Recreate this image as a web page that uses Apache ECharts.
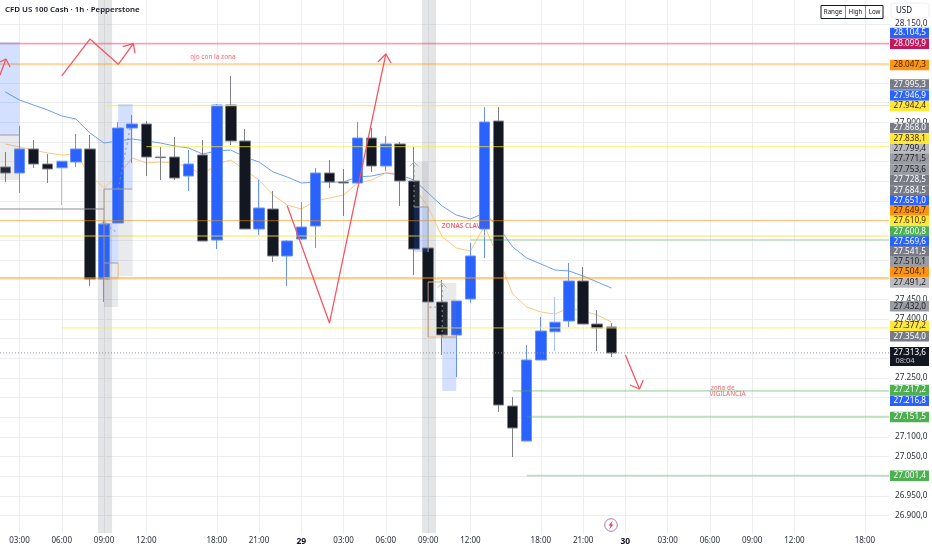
<!DOCTYPE html>
<html>
<head>
<meta charset="utf-8">
<style>html,body{margin:0;padding:0;background:#fff}#c{width:932px;height:550px}</style>
<script src="https://cdn.jsdelivr.net/npm/echarts@6/dist/echarts.min.js"></script>
</head>
<body>
<div id="c"></div>
<script>
// ---- data: open, close, low, high per hourly bar
const candles = [
[27786.3,27771,27748.1,27824.4],[27771,27832.1,27720.2,27890.5],[27832.1,27793.9,27783.7,27854.9],
[27793.9,27781.2,27745.6,27819.3],[27783.7,27801.5,27689.7,27801.5],[27799,27832.1,27786.3,27870.2],
[27832.1,27501.5,27483.7,27867.6],[27501.5,27641.4,27443,27651.5],[27643.9,27885.4,27643.9,27900.7],
[27885.4,27895.6,27796.5,27918.5],[27895.6,27811.7,27763.4,27903.2],[27811.7,27810,27753.2,27837.1],
[27811.7,27758.3,27753.2,27862.6],[27763.4,27793.9,27725.3,27829.5],[27816.8,27598.1,27598.1,27854.9],
[27600.7,27943.9,27577.8,27946.5],[27943.9,27852.4,27842.2,28017.7],[27852.4,27628.6,27628.6,27882.9],
[27628.6,27682,27613.4,27753.2],[27679.5,27560,27544.7,27725.3],[27560,27598.1,27483.7,27600.7],
[27603.2,27633.7,27600.7,27697.3],[27636.3,27771,27580.3,27783.7],[27771,27748.1,27732.9,27804.1],
[27748.1,27745.6,27661.7,27781.2],[27745.6,27860,27745.6,27900.7],[27860,27788.8,27773.6,27885.4],
[27788.8,27844.8,27776.1,27865.1],[27844.8,27750.7,27687.1,27849.9],[27750.7,27577.8,27511.7,27837.1],
[27580.3,27443,27443,27580.3],[27443,27359.1,27308.3,27499],[27359.1,27445.6,27252.3,27445.6],
[27450.7,27560,27440.5,27593],[27628.6,27900.7,27554.9,27938.8],[27903.2,27181.1,27163.3,27938.8],
[27178.6,27122.7,27048.9,27201.5],[27089.6,27295.6,27089.6,27333.7],[27295.6,27369.3,27295.6,27404.9],
[27366.8,27392.2,27318.4,27455.7],[27394.7,27496.4,27379.5,27542.2],[27496.4,27387.1,27387.1,27532],
[27387.1,27376.9,27318.4,27422.7],[27379.5,27313.4,27303.2,27389.6]
];
const fadedBars = [4,39];
const emaBlue = [27977,27956.6,27943.9,27931.2,27916,27908.3,27872.7,27847.3,27852.4,27857.5,27852.4,27847.3,27839.7,27834.6,27819.3,27827,27829.5,27811.7,27799,27773.6,27760.9,27745.6,27748.1,27748.1,27748.1,27760.9,27763.4,27771,27765.9,27753.2,27720.2,27687.1,27664.2,27654.1,27669.3,27633.7,27582.9,27554.9,27539.7,27524.4,27521.9,27509.1,27493.9,27478.6];
const emaOrange = [27844.8,27837.1,27829.5,27821.9,27816.8,27819.3,27765.9,27732.9,27765.9,27809.2,27796.5,27799,27796.5,27786.3,27765.9,27793.9,27804.1,27778.7,27753.2,27715.1,27689.7,27679.5,27699.8,27707.5,27715.1,27745.6,27753.2,27771,27771,27735.4,27684.6,27608.3,27580.3,27572.7,27636.3,27554.9,27463.4,27430.3,27417.6,27412.5,27427.8,27420.2,27410,27392.2];

// time axis
const timeTickBars = [1,4,7,10,15,18,21,24,27,30,33,38,41,44,47,50,53,56,61];
const timeTickTexts = ['03:00','06:00','09:00','12:00','18:00','21:00','29','03:00','06:00','09:00','12:00','18:00','21:00','30','03:00','06:00','09:00','12:00','18:00'];
const dayTicks = ['29','30'];

// price axis
const priceGrid = [26900,26950,27000,27050,27100,27150,27200,27250,27300,27350,27400,27450,27500,27550,27600,27650,27700,27750,27800,27850,27900,27950,28000,28050,28100,28150];
const priceLabels = [26900,26950,27050,27100,27250,27400,27450,27900,28150];

// horizontal levels: price, first bar, last bar
const levelPrices = [28099.9,28047.3,27942.4,27838.1,27649.7,27610.9,27600.8,27504.1,27377.2,27217.2,27151.5,27001.4,27679.5,27313.6];
const levelStarts = [-1,-1,7,10,-1,-1,33,-1,4,36,37,37,-1,-1];
const levelEnds = [63,63,63,63,63,63,63,63,63,63,63,63,7,63];

// price tags on the right
const tagTexts = ['28.104,5','28.099,9','28.047,3','27.995,3','27.946,9','27.942,4','27.868,0','27.838,1','27.799,4','27.771,5','27.753,6','27.728,5','27.684,5','27.651,0','27.649,7','27.610,9','27.600,8','27.569,6','27.541,5','27.510,1','27.504,1','27.491,2','27.432,0','27.377,2','27.354,0','27.217,2','27.216,8','27.151,5','27.001,4'];

// shaded zones: first bar, last bar, top price, bottom price
const zoneBars = [[-0.38,1],[-0.38,1],[8,9.03],[8,9.03],[7,8],[7,8],[29,30],[29,30],[31,32],[31,32]];
const zonePrices = [[28104.1,27867.6],[27867.6,27753.2],[27946.5,27730.3],[27730.3,27509.1],[27643.9,27542.2],[27542.2,27430.3],[27799,27684.6],[27684.6,27570.2],[27491.3,27354],[27354,27216.7]];
const zoneKinds = ['b','g','b','g','b','g','g','b','g','b'];
const sessionBands = [[6.57,7.57],[29.57,30.56]];

// drawn trend lines: [bar, price]
const arrows = [
 [[-0.38,28020.2],[0.04,28060.9]],
 [[-0.38,28053.3],[0.04,28060.9],[0.33,28040.5]],
 [[4,28017.7],[6,28111.7],[8.01,28047.4],[9.08,28099.8]],
 [[8.33,28092.2],[9.08,28099.8],[9.2,28076.1]],
 [[20,27687.9],[23,27389.6],[27,28073.6]],
 [[26.44,28053.3],[27,28073.6],[27.37,28050.7]],
 [[44,27308.3],[45,27221.8]],
 [[44.33,27232],[45,27221.8],[45.27,27244.7]]
];
const greyLines = [
 [[-0.38,27867.6],[1,27867.6]],[[7,27730.3],[9,27730.3]],[[7,27542.2],[8,27542.2]],
 [[29,27684.6],[30,27684.6],[30,27570.2]],[[31,27354],[32,27354]]
];
const brownLines = [
 [[7,27504.1],[7,27730.3]],
 [[30,27494],[30,27354]]
];
const orangeLines = [
 [[7,27504.1],[8,27504.1],[8,27542.2]],
 [[31,27494],[30,27494]],
 [[30,27354],[32,27354]]
];
const dashedLines = [
 [[8,27730.3],[8.85,27885]],
 [[29,27684.6],[29,27799]],
 [[31,27354],[31,27491.3]],
 [[7.1,27640],[7.9,27620]],
 [[30.1,27430],[30.6,27430]]
];
const dashedHeads = [
 [[28.7,27788],[29,27799],[29.3,27788]],
 [[30.7,27480],[31,27491.3],[31.3,27480]],
 [[6.8,27640],[7,27651],[7.2,27640]]
];
const notes = [
 {t:'ojo con la zona',p:[14.73,28065.9],k:0},
 {t:'ZONAS CLAVES',p:[32.6,27636.3],k:1},
 {t:'zona de',p:[50.9,27223],k:0},
 {t:'VIGILANCIA',p:[51.25,27207.8],k:0}
];

// ---- styles and layout
const FONT = '"Noto Sans", sans-serif';
const UP='#2962ff', DOWN='#131722', RED='#f7525f';
const xMin=-0.383, xMax=62.71, yMin=26855.7, yMax=28210.9;
const levelStyles = [
 {c:'rgba(242,54,100,.42)',w:1.8},{c:'rgba(255,152,0,.38)',w:1.8},{c:'rgba(255,235,59,.8)',w:1.1},{c:'rgba(255,235,59,.6)',w:1.1},
 {c:'rgba(255,152,0,.6)',w:1},{c:'rgba(255,225,40,.85)',w:1.1},{c:'rgba(76,175,80,.42)',w:1.3},{c:'rgba(255,152,0,.65)',w:1.3},
 {c:'rgba(255,235,59,.45)',w:1.8},{c:'rgba(76,175,80,.36)',w:1.8},{c:'rgba(76,175,80,.36)',w:1.8},{c:'rgba(76,175,80,.36)',w:1.8},
 {c:'#8a8d96',w:1},{c:'#8f93a0',w:1,d:[1,2]}
];
const tagStyle = {bl:['#2962ff','#fff'],cr:['#c2185b','#fff'],or:['#ff9414','#3a2500'],gr:['#787b86','#fff'],ye:['#ffe83b','#3a2500'],lg:['#b9bbc0','#222'],mg:['#9a9ca3','#222'],gn:['#4caf50','#fff']};
const tagKinds = ['bl','cr','or','gr','bl','ye','gr','ye','lg','mg','mg','gr','gr','bl','or','ye','gn','bl','gr','mg','or','lg','mg','ye','gr','gn','bl','gn','gn'];
const tagY = [33,43.7,65,84.5,95.5,106,128,138.5,149,159,169.5,180,190.5,200.5,210.5,221,231.5,241.5,251.5,262,272,282.5,306.3,326,336.3,390,400.7,417,475.7];
const zoneFill = {b:'rgba(41,98,255,.2)',g:'rgba(120,123,134,.16)'};
const noteStyle = [{fontSize:6.4,fontWeight:500},{fontSize:6.4,fontWeight:600,color:'#f23645'}];

function lineSeries(data,color,width,z,type){
  return {type:'line',data:data,symbol:'none',silent:true,animation:false,z:z,lineStyle:{color:color,width:width,type:type||'solid',cap:'butt'}};
}
function boxSeries(data,z,fillOf){
  return {type:'custom',silent:true,animation:false,z:z,clip:true,data:data,encode:{x:[0,1],y:[2,3]},
    renderItem:function(params,api){
      const a=api.coord([api.value(0),api.value(2)]),b=api.coord([api.value(1),api.value(3)]);
      return {type:'rect',shape:{x:a[0],y:a[1],width:b[0]-a[0],height:b[1]-a[1]},style:{fill:fillOf(params.dataIndex)}};
    }};
}
const series=[];
series.push(boxSeries(sessionBands.map(b=>[b[0],b[1],yMax,yMin]),1,()=>'rgba(120,123,134,.2)'));
series.push(lineSeries(emaBlue.map((v,i)=>[i,v]),'#6f9df3',1,2));
series.push(lineSeries(emaOrange.map((v,i)=>[i,v]),'#fbc785',1,2));
series.push({type:'candlestick',animation:false,silent:true,z:3,barWidth:11,
  data:candles.map((c,i)=>{
    const v=[i,c[0],c[1],c[2],c[3]];
    return fadedBars.includes(i)?{value:v,itemStyle:{borderColor:'#a9c1fb'}}:{value:v};
  }),
  itemStyle:{color:UP,color0:DOWN,borderColor:'#6a92f4',borderColor0:'#7d7f85',borderWidth:1}});
levelPrices.forEach((p,i)=>{
  const s=levelStyles[i];
  series.push(lineSeries([[Math.max(levelStarts[i],xMin),p],[Math.min(levelEnds[i],xMax),p]],s.c,s.w,4,s.d));
});
series.push(boxSeries(zoneBars.map((b,i)=>[b[0],b[1],zonePrices[i][0],zonePrices[i][1]]),5,i=>zoneFill[zoneKinds[i]]));
greyLines.forEach(l=>series.push(lineSeries(l,'#9a9ca3',1,6)));
brownLines.forEach(l=>series.push(lineSeries(l,'#b08f7c',1,6)));
orangeLines.forEach(l=>series.push(lineSeries(l,'#f2b27a',1,6)));
dashedLines.forEach(l=>series.push(lineSeries(l,'#8f9097',1,6,[2,3])));
dashedHeads.forEach(l=>series.push(lineSeries(l,'#a6a7ad',0.8,6)));
arrows.forEach(l=>series.push(lineSeries(l,RED,1.25,7)));
series.push({type:'scatter',silent:true,animation:false,z:8,symbolSize:0,
  data:notes.map(n=>({value:n.p,label:Object.assign({formatter:n.t},noteStyle[n.k])})),
  label:{show:true,position:'inside',color:RED,fontFamily:FONT}});

const graphics=[];
tagTexts.forEach((t,i)=>{
  const st=tagStyle[tagKinds[i]];
  graphics.push({type:'rect',z:100,shape:{x:890,y:tagY[i]-5.25,width:39,height:10.5},style:{fill:st[0]}});
  graphics.push({type:'text',z:101,style:{x:909.8,y:tagY[i],text:t,fill:st[1],font:'8.2px '+FONT,textAlign:'center',textVerticalAlign:'middle'}});
});
graphics.push({type:'rect',z:100,shape:{x:890,y:347,width:39,height:19},style:{fill:'#131722'}});
graphics.push({type:'text',z:101,style:{x:909.8,y:352.3,text:'27.313,6',fill:'#fff',font:'8.2px '+FONT,textAlign:'center',textVerticalAlign:'middle'}});
graphics.push({type:'text',z:101,style:{x:905,y:361,text:'08:04',fill:'#c5c7cd',font:'7.5px '+FONT,textAlign:'center',textVerticalAlign:'middle'}});
// range box
graphics.push({type:'rect',z:100,shape:{x:821,y:5.5,width:62,height:13},style:{fill:'#fff',stroke:'#131722',lineWidth:1}});
[845.5,865.5].forEach(x=>graphics.push({type:'line',z:101,shape:{x1:x,y1:6,x2:x,y2:18},style:{stroke:'#5d606b',lineWidth:.7}}));
[['Range',833],['High',855.5],['Low',874.5]].forEach(b=>graphics.push({type:'text',z:102,style:{x:b[1],y:12,text:b[0],fill:'#131722',font:'6.2px '+FONT,textAlign:'center',textVerticalAlign:'middle'}}));
// USD
graphics.push({type:'rect',z:100,shape:{x:891,y:3,width:38,height:15,r:3},style:{fill:'#fff',stroke:'#eceef2',lineWidth:1}});
graphics.push({type:'text',z:101,style:{x:904,y:10.5,text:'USD',fill:'#131722',font:'8px '+FONT,textAlign:'center',textVerticalAlign:'middle'}});
// event icon
graphics.push({type:'circle',z:100,shape:{cx:611,cy:525,r:6.3},style:{fill:'#fff',stroke:'#a87bb0',lineWidth:1}});
graphics.push({type:'polygon',z:101,shape:{points:[[613,520.5],[608.5,525.6],[610.8,525.6],[609,529.5],[613.5,524.4],[611.2,524.4]]},style:{fill:'#d23a6a'}});

const chart=echarts.init(document.getElementById('c'),null,{renderer:'canvas'});
chart.setOption({
  animation:false,
  backgroundColor:'#ffffff',
  title:{text:'CFD US 100 Cash · 1h · Pepperstone',left:5,top:6,padding:0,textStyle:{fontFamily:FONT,fontSize:7.9,fontWeight:600,color:'#131722'}},
  grid:{left:0,top:0,width:889,height:533,containLabel:false},
  xAxis:{type:'value',min:xMin,max:xMax,
    axisLine:{show:false},
    axisTick:{show:false,customValues:timeTickBars},
    splitLine:{show:true,lineStyle:{color:'#eceef2',width:1}},
    axisLabel:{customValues:timeTickBars,margin:4,hideOverlap:false,showMinLabel:true,showMaxLabel:true,fontFamily:FONT,fontSize:8,color:'#2a2e39',
      formatter:function(v){const t=timeTickTexts[timeTickBars.indexOf(v)]||'';return dayTicks.includes(t)?'{d|'+t+'}':t;},
      rich:{d:{fontFamily:FONT,fontSize:8.5,fontWeight:700,color:'#131722'}}}},
  yAxis:{type:'value',position:'right',min:yMin,max:yMax,scale:true,
    axisLine:{show:false},
    axisTick:{show:false,customValues:priceGrid},
    splitLine:{show:true,lineStyle:{color:'#eceef2',width:1}},
    axisLabel:{customValues:priceLabels,inside:false,margin:6,fontFamily:FONT,fontSize:8.2,color:'#2a2e39',
      formatter:function(v){const s=String(v);return s.slice(0,2)+'.'+s.slice(2)+',0';}}},
  graphic:graphics,
  series:series
});
</script>
</body>
</html>
